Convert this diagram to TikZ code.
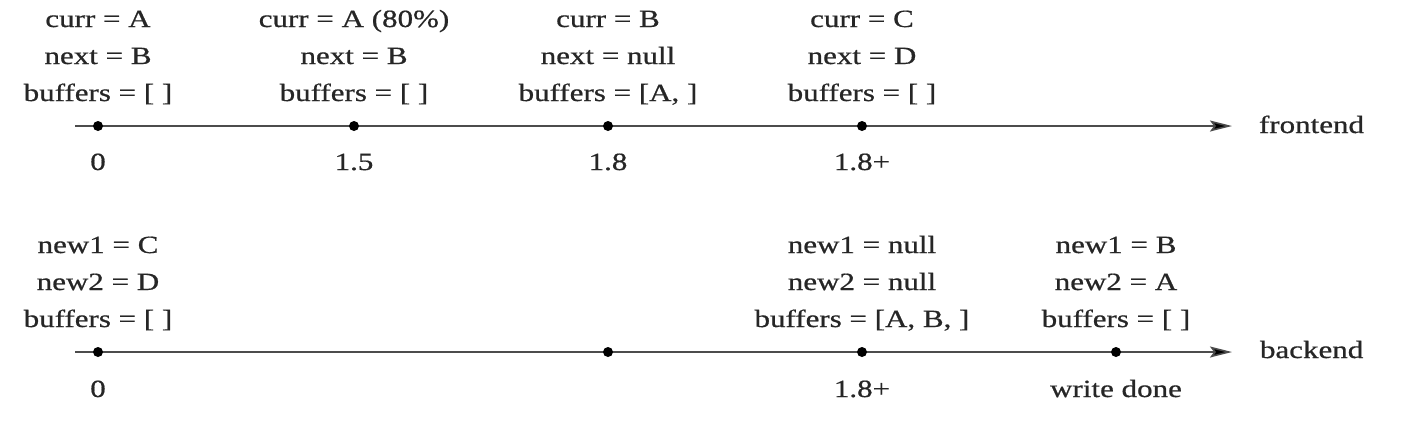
\documentclass[tikz,border=0pt]{standalone}
\usepackage{fontspec}
\setmainfont{Liberation Serif}
\newfontfamily\scanfont[FakeBold=0.6]{Liberation Serif}
\usepackage{graphicx}
\usetikzlibrary{arrows.meta}
\newcommand{\blk}[1]{\scalebox{1.25}[1]{\begin{tabular}[t]{@{}c@{}}#1\end{tabular}}}
\newcommand{\one}[1]{\scalebox{1.25}[1]{#1}}
\tikzset{
  txt/.style={inner sep=0pt, outer sep=0pt, anchor=base, text=black!85,
    font=\scanfont\fontsize{12.4}{18.5}\selectfont},
  dot/.style={circle, fill=black, inner sep=0pt, minimum size=5pt},
  axis/.style={line width=0.8pt, draw=black!70,
    -{Stealth[length=11pt,width=5.5pt,inset=2pt,fill=black]}},
}
\begin{document}
\begin{tikzpicture}[x=0.5pt,y=-0.5pt]
\useasboundingbox (0,0) rectangle (1420,420);
% ---------- frontend ----------
\coordinate (fs) at (75,126);
\coordinate (fe) at (1232,126);
\draw[axis] (fs) -- (fe);
\node[dot] (f0) at (98,126) {};
\node[dot] (f1) at (354,126) {};
\node[dot] (f2) at (608,126) {};
\node[dot] (f3) at (862,126) {};
\node[txt, anchor=base west] (fl) at (1259,133) {\one{frontend}};

\node[txt] (ft0) at (98,27) {\blk{curr = A\\ next = B\\ buffers = [ ]}};
\node[txt] (ft1) at (354,27) {\blk{curr = A (80\%)\\ next = B\\ buffers = [ ]}};
\node[txt] (ft2) at (608,27) {\blk{curr = B\\ next = null\\ buffers = [A, ]}};
\node[txt] (ft3) at (862,27) {\blk{curr = C\\ next = D\\ buffers = [ ]}};

\node[txt] (fn0) at (98,170) {\one{0}};
\node[txt] (fn1) at (354,170) {\one{1.5}};
\node[txt] (fn2) at (608,170) {\one{1.8}};
\node[txt] (fn3) at (862,170) {\one{1.8+}};

% ---------- backend ----------
\coordinate (bs) at (75,352);
\coordinate (be) at (1232,352);
\draw[axis] (bs) -- (be);
\node[dot] (b0) at (98,352) {};
\node[dot] (b1) at (608,352) {};
\node[dot] (b2) at (862,352) {};
\node[dot] (b3) at (1116,352) {};
\node[txt, anchor=base west] (bl) at (1260,358) {\one{backend}};

\node[txt] (bt0) at (98,253) {\blk{new1 = C\\ new2 = D\\ buffers = [ ]}};
\node[txt] (bt2) at (862,253) {\blk{new1 = null\\ new2 = null\\ buffers = [A, B, ]}};
\node[txt] (bt3) at (1116,253) {\blk{new1 = B\\ new2 = A\\ buffers = [ ]}};

\node[txt] (bn0) at (98,397) {\one{0}};
\node[txt] (bn2) at (862,397) {\one{1.8+}};
\node[txt] (bn3) at (1116,397) {\one{write done}};
\end{tikzpicture}
\end{document}
